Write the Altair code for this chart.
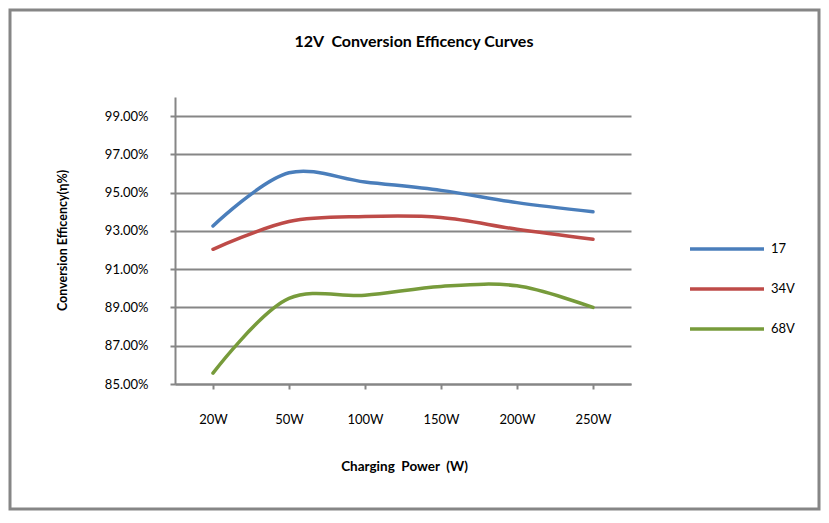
import altair as alt
import pandas as pd

powers = ["20W", "50W", "100W", "150W", "200W", "250W"]
series_names = ["17", "34V", "68V"]
eff_17 = [93.26, 96.04, 95.56, 95.12, 94.48, 94.00]
eff_34 = [92.04, 93.49, 93.75, 93.70, 93.09, 92.57]
eff_68 = [85.57, 89.47, 89.64, 90.10, 90.13, 89.00]
colors = ["#4A7EBB", "#BE4B48", "#779B3B"]
y_ticks = [85, 87, 89, 91, 93, 95, 97, 99]

rows = []
for name, vals in zip(series_names, [eff_17, eff_34, eff_68]):
    for p, v in zip(powers, vals):
        rows.append({"power": p, "series": name, "eff": v / 100.0})
df = pd.DataFrame(rows)

FONT = "Lato"
GRID = "#868686"

lines = alt.Chart(df).mark_line(
    interpolate="catmull-rom", strokeWidth=3.5, strokeCap="round"
).encode(
    x=alt.X(
        "power:N",
        sort=powers,
        scale=alt.Scale(type="point", padding=0.5),
        axis=alt.Axis(
            title="Charging\u00a0\u00a0Power\u00a0\u00a0(W)",
            labelAngle=0,
            labelFontSize=13,
            labelPadding=24,
            tickSize=5,
            titleX=229,
            titleY=82,
            titleBaseline="middle",
            titleFontSize=13.5,
        ),
    ),
    y=alt.Y(
        "eff:Q",
        scale=alt.Scale(domain=[0.85, 1.0], nice=False, zero=False),
        axis=alt.Axis(
            title="Conversion Efficency(\u03b7%)",
            values=[v / 100.0 for v in y_ticks],
            format=".2%",
            labelFontSize=13,
            labelPadding=22,
            tickSize=5,
            grid=True,
            titleX=-113,
            titleY=143,
            titleBaseline="middle",
            titleFontSize=12.5,
        ),
    ),
    color=alt.Color(
        "series:N",
        sort=series_names,
        scale=alt.Scale(domain=series_names, range=colors),
        legend=alt.Legend(
            title=None,
            orient="none",
            legendX=513,
            legendY=132,
            symbolType="stroke",
            symbolSize=5476,
            symbolStrokeWidth=3.5,
            clipHeight=40,
            rowPadding=0,
            labelFontSize=13,
            labelOffset=5,
            labelColor="black",
            labelFont=FONT,
        ),
    ),
)

border = alt.Chart(pd.DataFrame({"a": [0]})).mark_rect(
    fill=None, stroke=GRID, strokeWidth=3
).encode(
    x=alt.value(-165), x2=alt.value(456 + 188),
    y=alt.value(-87), y2=alt.value(287 + 125),
)

chart = alt.layer(border, lines).properties(
    width=456,
    height=287,
    padding={"left": 167, "top": 89, "right": 190, "bottom": 127},
    autosize=alt.AutoSizeParams(type="none"),
    title=alt.TitleParams(
        "12V\u00a0\u00a0Conversion Efficency Curves",
        fontSize=16,
        font=FONT,
        fontWeight="bold",
        anchor="middle",
        frame="group",
        dx=11,
        dy=41,
        offset=0,
        color="black",
    ),
).configure_axis(
    labelFont=FONT,
    titleFont=FONT,
    labelColor="black",
    titleColor="black",
    titleFontWeight="bold",
    domainColor=GRID,
    domainWidth=2,
    tickColor=GRID,
    tickWidth=2,
    gridColor=GRID,
    gridWidth=2,
    gridOpacity=1,
).configure_axisX(grid=False).configure_view(stroke=None)

chart.save("out.html", embed_options={"renderer": "svg", "actions": False})
